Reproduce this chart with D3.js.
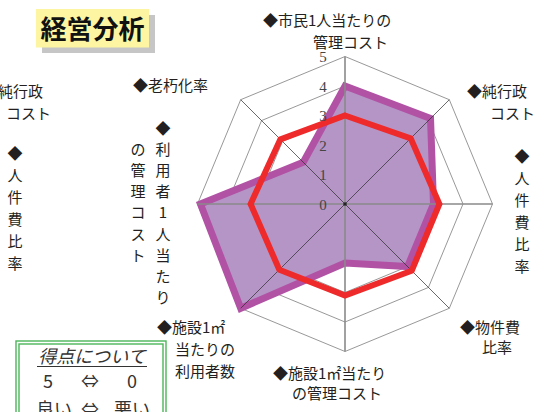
<!DOCTYPE html>
<html>
<head>
<meta charset="utf-8">
<script src="https://cdn.jsdelivr.net/npm/d3@7"></script>
<style>
  body { margin: 0; background: #fff; }
  svg { display: block; }
</style>
</head>
<body>
<div id="chart"></div>
<script>
// chart data
const axisNames = ["市民1人当たりの管理コスト", "純行政コスト", "人件費比率", "物件費比率",
  "施設1㎡当たりの管理コスト", "施設1㎡当たりの利用者数", "利用者1人当たりの管理コスト", "老朽化率"];
const scores = [4.0, 4.1, 3.0, 3.0, 2.0, 5.0, 4.9, 2.0];
const average = [3.0, 3.15, 3.2, 3.2, 3.1, 3.15, 3.2, 3.1];
const levels = [1, 2, 3, 4, 5];
const tickLabels = ["0", "1", "2", "3", "4", "5"];

const W = 553, H = 412;
const cx = 345, cy = 204, R = 147.5;
const fontJP = "'Noto Sans CJK JP', 'Noto Sans', sans-serif";

const svg = d3.select("#chart").append("svg")
  .attr("width", W)
  .attr("height", H);

const r = d3.scaleLinear().domain([0, 5]).range([0, R]);
const step = 2 * Math.PI / axisNames.length;

const radar = d3.lineRadial()
  .angle((d, i) => i * step)
  .radius((d) => r(d))
  .curve(d3.curveLinearClosed);

const g = svg.append("g").attr("transform", `translate(${cx},${cy})`);

// grid rings
g.selectAll(".ring")
  .data(levels)
  .join("path")
  .attr("class", "ring")
  .attr("d", (lv) => radar(axisNames.map(() => lv)))
  .attr("fill", "none")
  .attr("stroke", "#8c8c8c")
  .attr("stroke-width", 0.9);

// score area
g.append("path")
  .attr("d", radar(scores))
  .attr("fill", "#b595c6")
  .attr("stroke", "#b152a5")
  .attr("stroke-width", 7)
  .attr("stroke-linejoin", "miter");

// axes (drawn over the fill)
g.selectAll(".axis")
  .data(axisNames)
  .join("line")
  .attr("class", "axis")
  .attr("x1", 0).attr("y1", 0)
  .attr("x2", (d, i) => r(5) * Math.sin(i * step))
  .attr("y2", (d, i) => -r(5) * Math.cos(i * step))
  .attr("stroke", (d, i) => i % 2 === 0 ? "#8a8a8a" : "#2a2a2a")
  .attr("stroke-width", (d, i) => i % 2 === 0 ? 1.6 : 0.7);

g.append("circle").attr("r", 1.8).attr("fill", "#222");

// average line
g.append("path")
  .attr("d", radar(average))
  .attr("fill", "none")
  .attr("stroke", "#ee2a2a")
  .attr("stroke-width", 6)
  .attr("stroke-linejoin", "miter");

// tick labels
g.selectAll(".tick")
  .data(tickLabels)
  .join("text")
  .attr("class", "tick")
  .attr("x", -22)
  .attr("y", (d) => -r(+d))
  .attr("dy", "0.38em")
  .attr("text-anchor", "middle")
  .attr("font-family", "'Liberation Serif', 'DejaVu Serif', serif")
  .attr("font-size", 15)
  .attr("fill", "#444")
  .text((d) => d);

// ---- axis labels ----
const labelStyle = (sel) => sel
  .attr("font-family", fontJP)
  .attr("font-size", 15)
  .attr("fill", "#231f20");

// horizontal labels: lines, x per line, baseline per line
const hLabels = [
  { lines: ["◆市民1人当たりの", "管理コスト"], x: [263, 313], y: [26, 48] },
  { lines: ["◆純行政", "コスト"], x: [467, 490], y: [97, 119] },
  { lines: ["◆純行政", "コスト"], x: [-17, 6], y: [97, 119] },
  { lines: ["◆物件費", "比率"], x: [460, 482], y: [333, 353] },
  { lines: ["◆施設1㎡当たり", "の管理コスト"], x: [273, 292], y: [379, 399] },
  { lines: ["◆施設1㎡", "当たりの", "利用者数"], x: [157, 175, 175], y: [333, 355, 377] },
  { lines: ["◆老朽化率"], x: [133], y: [91] }
];

hLabels.forEach((lab) => {
  const t = svg.append("text").call(labelStyle);
  t.selectAll("tspan")
    .data(lab.lines)
    .join("tspan")
    .attr("x", (d, i) => lab.x[i])
    .attr("y", (d, i) => lab.y[i])
    .text((d) => d);
});

// vertical labels: one character per row
const vLabels = [
  { text: "◆人件費比率", x: 522, y0: 156, dy: 22 },
  { text: "◆人件費比率", x: 15, y0: 153, dy: 22 },
  { text: "◆利用者1人当たり", x: 163, y0: 128, dy: 21.2 },
  { text: "の管理コスト", x: 138, y0: 149.2, dy: 21.2 }
];

vLabels.forEach((lab) => {
  const t = svg.append("text").call(labelStyle).attr("text-anchor", "middle");
  t.selectAll("tspan")
    .data(Array.from(lab.text))
    .join("tspan")
    .attr("x", lab.x)
    .attr("y", (d, i) => lab.y0 + i * lab.dy + 5.5)
    .text((d) => d);
});

// ---- title ----
svg.append("rect")
  .attr("x", 42).attr("y", 15)
  .attr("width", 113).attr("height", 38)
  .attr("fill", "#c6c6c6");
svg.append("rect")
  .attr("x", 36).attr("y", 9)
  .attr("width", 113).attr("height", 38.5)
  .attr("fill", "#fdf5a2");
svg.append("text")
  .attr("x", 92.5).attr("y", 39)
  .attr("text-anchor", "middle")
  .attr("font-family", fontJP)
  .attr("font-weight", 700)
  .attr("font-size", 26)
  .attr("fill", "#111")
  .text("経営分析");

// ---- score note box ----
svg.append("rect")
  .attr("x", 16).attr("y", 341)
  .attr("width", 150).attr("height", 90)
  .attr("fill", "#fff")
  .attr("stroke", "#4cb55a")
  .attr("stroke-width", 1.4);
svg.append("rect")
  .attr("x", 19).attr("y", 344)
  .attr("width", 144).attr("height", 90)
  .attr("fill", "none")
  .attr("stroke", "#4cb55a")
  .attr("stroke-width", 1.4);

svg.append("text")
  .attr("x", 92).attr("y", 363)
  .attr("text-anchor", "middle")
  .attr("font-family", fontJP)
  .attr("font-style", "italic")
  .attr("font-size", 18)
  .attr("fill", "#333")
  .text("得点について");
svg.append("line")
  .attr("x1", 37).attr("x2", 147)
  .attr("y1", 366.5).attr("y2", 366.5)
  .attr("stroke", "#333").attr("stroke-width", 1);

const noteRows = [["5", "⇔", "0"], ["良い", "⇔", "悪い"]];
const noteX = [48, 90, 132];
noteRows.forEach((row, j) => {
  svg.append("g").selectAll("text")
    .data(row)
    .join("text")
    .attr("x", (d, i) => noteX[i] + (j === 1 && i === 0 ? 6 : 0))
    .attr("y", j === 0 ? 388 : 416)
    .attr("text-anchor", "middle")
    .attr("font-family", fontJP)
    .attr("font-size", 18)
    .attr("fill", "#333")
    .text((d) => d);
});
</script>
</body>
</html>
